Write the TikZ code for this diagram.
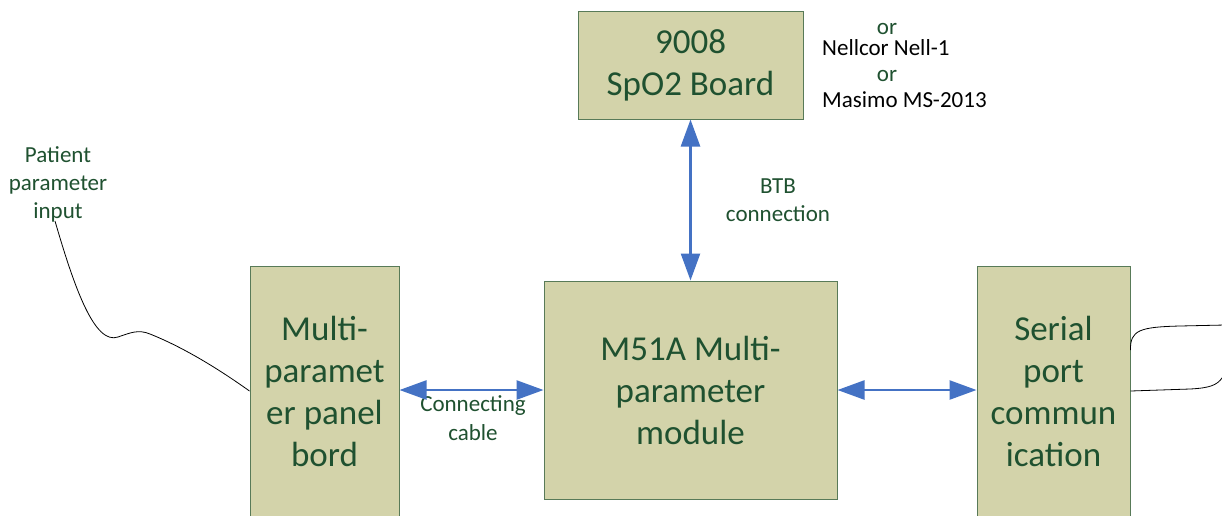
\documentclass[tikz,border=0pt]{standalone}
\usepackage{fontspec}
\setmainfont{Carlito}
\usetikzlibrary{arrows.meta}
\definecolor{boxfill}{HTML}{D3D3AA}
\definecolor{boxline}{HTML}{587A58}
\definecolor{txtgreen}{HTML}{1F5130}
\definecolor{arrblue}{HTML}{4472C4}
\begin{document}
\begin{tikzpicture}[x=1pt,y=-1pt,
  block/.style={draw=boxline, line width=1pt, fill=boxfill, inner sep=0pt, align=center, text=txtgreen, font=\fontsize{35}{42}\selectfont},
  lbl/.style={text=txtgreen, align=center, font=\fontsize{23}{28}\selectfont, inner sep=0pt},
  blk/.style={text=black, font=\fontsize{23}{28}\selectfont, inner sep=0pt},
  link/.style={draw=arrblue, line width=2.5pt, {Triangle[length=27pt,width=19pt]}-{Triangle[length=27pt,width=19pt]}},
  wire/.style={draw=black, line width=0.8pt}]
\useasboundingbox[fill=white] (0,0) rectangle (1222,515);

\node[block, minimum width=225pt, minimum height=108pt] (spo2) at (690.5,65) {9008\\SpO2 Board};
\node[block, minimum width=293pt, minimum height=218pt] (mod) at (690.5,390) {M51A Multi-\\parameter\\module};
\node[block, minimum width=149pt, minimum height=250pt] (panel) at (324.5,391) {Multi-\\paramet\\er panel\\bord};
\node[block, minimum width=153pt, minimum height=250pt] (serial) at (1053.5,391) {Serial\\port\\commun\\ication};

\node[lbl] (or1) at (887,29) {or};
\node[blk, anchor=west] (nell) at (822,48) {Nellcor Nell-1};
\node[lbl] (or2) at (887,76) {or};
\node[blk, anchor=west] (masi) at (822,100) {Masimo MS-2013};

\node[lbl] (btb) at (778,200) {BTB\\connection};
\node[lbl] (pat) at (58,184) {Patient\\parameter\\input};
\node[lbl, font=\fontsize{23}{29}\selectfont] (cable) at (473,418) {Connecting\\cable};

\draw[link] (spo2.south) -- (mod.north);
\draw[link] (panel.east |- mod.west) -- (mod.west);
\draw[link] (mod.east) -- (serial.west |- mod.east);

\coordinate (pin) at (55,221);
\draw[wire] (pin) .. controls (75,290) and (95,345) .. (118,337)
  .. controls (130,333) and (138,329) .. (150,334)
  .. controls (185,348) and (220,370) .. (panel.west);

\draw[wire] ([yshift=41pt]serial.east) .. controls (1130,330) and (1140,327) .. (1180,326)
  -- (1225,325) .. controls (1260,325) and (1232,368) .. (1222,378)
  .. controls (1217,385) and (1210,388) .. (1190,389) -- (serial.east);
\end{tikzpicture}
\end{document}
